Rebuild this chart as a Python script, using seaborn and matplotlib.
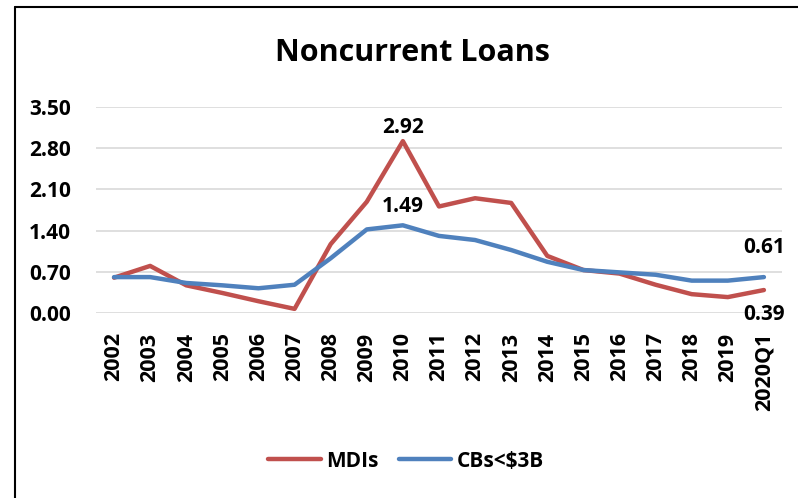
import numpy as np
import matplotlib
matplotlib.use("Agg")
import matplotlib.pyplot as plt
import pandas as pd
import seaborn as sns
from matplotlib.lines import Line2D

years = ["2002", "2003", "2004", "2005", "2006", "2007", "2008", "2009", "2010",
         "2011", "2012", "2013", "2014", "2015", "2016", "2017", "2018", "2019", "2020Q1"]
mdis = [0.60, 0.80, 0.47, 0.34, 0.20, 0.07, 1.17, 1.89, 2.92,
        1.81, 1.95, 1.87, 0.97, 0.73, 0.67, 0.48, 0.32, 0.27, 0.39]
cbs = [0.61, 0.61, 0.51, 0.47, 0.42, 0.48, 0.93, 1.42, 1.49,
       1.31, 1.24, 1.07, 0.87, 0.73, 0.69, 0.65, 0.55, 0.55, 0.61]

sns.set_theme(style="white")
plt.rcParams['font.family'] = ['Open Sans', 'DejaVu Sans']
plt.rcParams['font.weight'] = 'bold'
plt.rcParams['text.color'] = 'black'
plt.rcParams['xtick.color'] = 'black'
plt.rcParams['ytick.color'] = 'black'

df = pd.DataFrame({
    'year': years * 2,
    'value': mdis + cbs,
    'series': ['MDIs'] * len(years) + ['CBs<$3B'] * len(years)
})
colors = {'MDIs': '#C0504D', 'CBs<$3B': '#4F81BD'}
fs = 15

fig = plt.figure(figsize=(7.98, 4.98), dpi=100)
ax = fig.add_axes([0.1203, 0.3715, 0.8596, 0.4136])
sns.lineplot(data=df, x='year', y='value', hue='series', palette=colors,
             linewidth=3.2, sort=False, ax=ax, legend=False,
             solid_capstyle='round', solid_joinstyle='round')

ax.set_xlim(-0.5, len(years) - 0.5)
ax.set_ylim(0, 3.5)
yt = [0, 0.7, 1.4, 2.1, 2.8, 3.5]
ax.set_yticks(yt)
ax.set_yticklabels([f"{v:.2f}" for v in yt], fontsize=fs, fontweight='bold')
ax.set_xticks(range(len(years)))
ax.set_xticklabels(years, rotation=90, fontsize=15.5, fontweight='bold', va='top')
ax.tick_params(axis='x', length=0, pad=14)
ax.tick_params(axis='y', length=0, pad=18)
ax.grid(axis='y', color='#D9D9D9', linewidth=1.2)
ax.grid(axis='x', visible=False)
for s in ax.spines.values():
    s.set_visible(False)
ax.set_xlabel('')
ax.set_ylabel('')

# data labels
lab = dict(fontsize=fs, fontweight='bold', ha='center', textcoords='offset points')
ax.annotate(f"{mdis[8]:.2f}", (8, mdis[8]), xytext=(0, 2), va='bottom', **lab)
ax.annotate(f"{cbs[8]:.2f}", (8, cbs[8]), xytext=(0, 6), va='bottom', **lab)
ax.annotate(f"{cbs[-1]:.2f}", (18, cbs[-1]), xytext=(0, 14), va='bottom', **lab)
ax.annotate(f"{mdis[-1]:.2f}", (18, mdis[-1]), xytext=(0, -10), va='top', **lab)

fig.text(0.517, 0.893, "Noncurrent Loans", ha='center', va='center',
         fontsize=22, fontweight='bold')

handles = [Line2D([], [], color=colors[k], linewidth=3.2, solid_capstyle='round') for k in colors]
fig.legend(handles, list(colors.keys()), loc='center', bbox_to_anchor=(406 / 798, 1 - 461 / 498),
           ncol=2, frameon=False, handlelength=2.5, columnspacing=1.0,
           handletextpad=0.25, prop={'weight': 'bold', 'size': 15})

# chart border
fig.add_artist(Line2D([14.5 / 798, 14.5 / 798], [0, 1 - 7.5 / 498], color='black', linewidth=1.5))
fig.add_artist(Line2D([14.5 / 798, 1], [1 - 7.5 / 498, 1 - 7.5 / 498], color='black', linewidth=1.5))

fig.savefig("out.png", dpi=100)
